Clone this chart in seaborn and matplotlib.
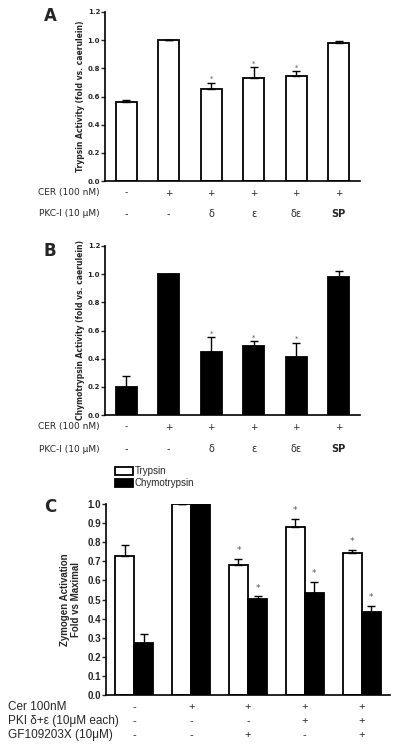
import numpy as np
import pandas as pd
import seaborn as sns
import matplotlib.pyplot as plt
import matplotlib.transforms as mtransforms

# Panel A / B data
conds = ['1', '2', '3', '4', '5', '6']
trypsin_a = [0.56, 1.0, 0.655, 0.73, 0.743, 0.977]
trypsin_a_err = [0.014, 0.0, 0.043, 0.077, 0.036, 0.019]
chymo_b = [0.196, 1.0, 0.447, 0.487, 0.413, 0.977]
chymo_b_err = [0.083, 0.0, 0.104, 0.036, 0.100, 0.049]
sig_ab = [False, False, True, True, True, False]
cer_row = ['-', '+', '+', '+', '+', '+']
pkc_row = ['-', '-', 'δ', 'ε', 'δε', 'SP']

# Panel C data
groups = ['g1', 'g2', 'g3', 'g4', 'g5']
trypsin_c = [0.729, 1.0, 0.683, 0.877, 0.741]
trypsin_c_err = [0.054, 0.0, 0.030, 0.046, 0.019]
chymo_c = [0.271, 1.0, 0.505, 0.533, 0.432]
chymo_c_err = [0.047, 0.0, 0.011, 0.060, 0.036]
sig_t = [False, False, True, True, True]
sig_c = [False, False, True, True, True]
cer_c = ['-', '+', '+', '+', '+']
pki_c = ['-', '-', '-', '+', '+']
gf_c = ['-', '-', '+', '-', '+']

W, H = 400, 751
fig = plt.figure(figsize=(W / 100, H / 100), dpi=100)
sns.set_style('ticks')
plt.rcParams['font.family'] = ['DejaVu Sans']


def px_axes(left, top, right, bottom):
    return fig.add_axes([left / W, 1 - bottom / H, (right - left) / W, (bottom - top) / H])


def style_axes(ax, fs, family='DejaVu Sans'):
    sns.despine(ax=ax)
    for s in ['left', 'bottom']:
        ax.spines[s].set_linewidth(1.2)
        ax.spines[s].set_color('black')
    ax.tick_params(axis='y', length=3, width=1.0, pad=0.5, labelsize=fs, direction='out')
    ax.tick_params(axis='x', length=0, labelbottom=False)
    for lab in ax.get_yticklabels():
        lab.set_fontweight('bold')
        lab.set_family(family)
    ax.set_xlabel('')


def row_text(ax, xs, labels, y_px, **kw):
    tr = mtransforms.blended_transform_factory(ax.transData, fig.transFigure)
    for x, lab in zip(xs, labels):
        ax.text(x, 1 - y_px / H, lab, transform=tr, ha='center', va='center', **kw)


def single_panel(ax, vals, errs, color, ylabel, letter, letter_y, rows_y):
    df = pd.DataFrame({'cond': conds, 'val': vals})
    sns.barplot(data=df, x='cond', y='val', color=color, edgecolor='black',
                linewidth=1.3, width=0.5, errorbar=None, ax=ax, saturation=1)
    for p in ax.patches:
        p.set_facecolor(color)
    x = np.arange(len(conds))
    ax.errorbar(x, vals, yerr=[np.zeros(len(errs)), errs], fmt='none',
                ecolor='black', elinewidth=1.0, capsize=3, capthick=1.0)
    for xi, v, e, s in zip(x, vals, errs, sig_ab):
        if s:
            ax.text(xi, v + e + 0.005, '*', ha='center', va='bottom', fontsize=5, color='#555555')
    ax.set_xlim(-0.5, 5.5)
    ax.set_ylim(0, 1.2)
    ax.set_yticks(np.arange(0, 1.21, 0.2))
    ax.set_yticklabels([f'{t:.1f}' for t in np.arange(0, 1.21, 0.2)])
    style_axes(ax, 5)
    ax.set_ylabel(ylabel, fontsize=5.5, fontweight='bold', labelpad=2)
    fig.text(50 / W, 1 - letter_y / H, letter, fontsize=12, fontweight='bold', ha='center', va='center')
    tr = mtransforms.blended_transform_factory(fig.transFigure, fig.transFigure)
    ax.text(100 / W, 1 - rows_y[0] / H, 'CER (100 nM)', transform=tr, ha='right', va='center', fontsize=6.5)
    ax.text(100 / W, 1 - rows_y[1] / H, 'PKC-I (10 μM)', transform=tr, ha='right', va='center', fontsize=6.5)
    row_text(ax, x, cer_row, rows_y[0], fontsize=6.5)
    for xi, lab in zip(x, pkc_row):
        row_text(ax, [xi], [lab], rows_y[1], fontsize=7,
                 fontweight='bold' if lab == 'SP' else 'normal')


# Panel A
axA = px_axes(105, 12, 360, 181)
single_panel(axA, trypsin_a, trypsin_a_err, 'white',
             'Trypsin Activity (fold vs. caerulein)', 'A', 16, (193, 214))

# Panel B
axB = px_axes(105, 246, 360, 415)
single_panel(axB, chymo_b, chymo_b_err, 'black',
             'Chymotrypsin Activity (fold vs. caerulein)', 'B', 251, (427, 449))

# Panel C
axC = px_axes(106, 504, 390, 695)
dfc = pd.DataFrame({
    'group': groups * 2,
    'val': trypsin_c + chymo_c,
    'enzyme': ['Trypsin'] * 5 + ['Chymotrypsin'] * 5,
})
sns.barplot(data=dfc, x='group', y='val', hue='enzyme', palette=['white', 'black'],
            edgecolor='black', linewidth=1.3, width=0.67, errorbar=None, ax=axC, saturation=1)
for cont, errs, vals, sig in zip(axC.containers, [trypsin_c_err, chymo_c_err],
                                 [trypsin_c, chymo_c], [sig_t, sig_c]):
    xs = [b.get_x() + b.get_width() / 2 for b in cont]
    axC.errorbar(xs, vals, yerr=[np.zeros(len(errs)), errs], fmt='none',
                 ecolor='black', elinewidth=1.0, capsize=3, capthick=1.0)
    for xi, v, e, s in zip(xs, vals, errs, sig):
        if s:
            axC.text(xi, v + e + 0.02, '*', ha='center', va='bottom', fontsize=6.5, color='#555555')
axC.set_xlim(-0.5, 4.5)
axC.set_ylim(0, 1.0)
axC.set_yticks(np.arange(0, 1.01, 0.1))
axC.set_yticklabels([f'{t:.1f}' for t in np.arange(0, 1.01, 0.1)])
style_axes(axC, 7, family='Liberation Sans')
axC.set_ylabel('Zymogen Activation\nFold vs Maximal', fontsize=7, fontweight='bold',
               family='Liberation Sans', labelpad=5, linespacing=1.1)
handles, labels = axC.get_legend_handles_labels()
axC.legend(handles, labels, loc='upper left', bbox_to_anchor=(115 / W, 1 - 466 / H),
           bbox_transform=fig.transFigure, frameon=False, borderpad=0, borderaxespad=0,
           handlelength=1.8, handleheight=0.9, handletextpad=0.2, labelspacing=0.2,
           prop={'family': 'Liberation Sans', 'size': 7})
fig.text(50 / W, 1 - 507 / H, 'C', fontsize=12, fontweight='bold', ha='center', va='center')
tr = mtransforms.blended_transform_factory(fig.transFigure, fig.transFigure)
row_labels_c = ['Cer 100nM', 'PKI δ+ε (10μM each)', 'GF109203X (10μM)']
rows_c = [cer_c, pki_c, gf_c]
ys_c = [707, 721, 735]
for lab, vals, y in zip(row_labels_c, rows_c, ys_c):
    axC.text(8 / W, 1 - y / H, lab, transform=tr, ha='left', va='center',
             fontsize=8.5, family='Liberation Sans')
    row_text(axC, np.arange(5), vals, y, fontsize=8, family='Liberation Sans')

fig.savefig('out.png', dpi=100)
